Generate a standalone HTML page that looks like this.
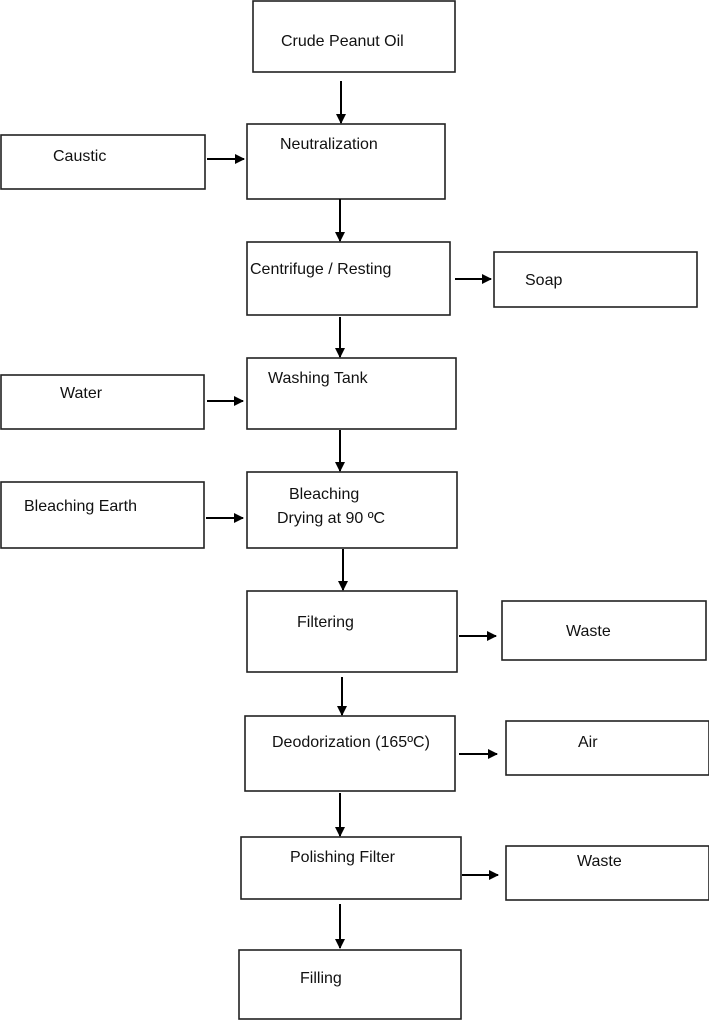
<!DOCTYPE html>
<html><head><meta charset="utf-8"><style>
html,body{margin:0;padding:0;background:#fff;width:709px;height:1020px;overflow:hidden}
svg text{font-family:"Liberation Sans",sans-serif;font-size:16px;fill:#111}
</style></head><body>
<svg width="709" height="1020" viewBox="0 0 709 1020" xmlns="http://www.w3.org/2000/svg">
<defs><marker id="a" markerWidth="10" markerHeight="10" refX="9" refY="5" orient="auto" markerUnits="userSpaceOnUse"><path d="M0,0 L10,5 L0,10 z" fill="#000"/></marker></defs>
<g fill="none" stroke="#222" stroke-width="1.6">
<rect x="253" y="1" width="202" height="71"/>
<rect x="247" y="124" width="198" height="75"/>
<rect x="1" y="135" width="204" height="54"/>
<rect x="247" y="242" width="203" height="73"/>
<rect x="494" y="252" width="203" height="55"/>
<rect x="247" y="358" width="209" height="71"/>
<rect x="1" y="375" width="203" height="54"/>
<rect x="247" y="472" width="210" height="76"/>
<rect x="1" y="482" width="203" height="66"/>
<rect x="247" y="591" width="210" height="81"/>
<rect x="502" y="601" width="204" height="59"/>
<rect x="245" y="716" width="210" height="75"/>
<rect x="506" y="721" width="203" height="54"/>
<rect x="241" y="837" width="220" height="62"/>
<rect x="506" y="846" width="203" height="54"/>
<rect x="239" y="950" width="222" height="69"/>
</g>
<g stroke="#000" stroke-width="2" marker-end="url(#a)">
<line x1="341" y1="81" x2="341" y2="123"/>
<line x1="207" y1="159" x2="244" y2="159"/>
<line x1="340" y1="199" x2="340" y2="241"/>
<line x1="455" y1="279" x2="491" y2="279"/>
<line x1="340" y1="317" x2="340" y2="357"/>
<line x1="207" y1="401" x2="243" y2="401"/>
<line x1="340" y1="430" x2="340" y2="471"/>
<line x1="206" y1="518" x2="243" y2="518"/>
<line x1="343" y1="549" x2="343" y2="590"/>
<line x1="459" y1="636" x2="496" y2="636"/>
<line x1="342" y1="677" x2="342" y2="715"/>
<line x1="459" y1="754" x2="497" y2="754"/>
<line x1="340" y1="793" x2="340" y2="836"/>
<line x1="462" y1="875" x2="498" y2="875"/>
<line x1="340" y1="904" x2="340" y2="948"/>
</g>
<text x="281" y="46">Crude Peanut Oil</text>
<text x="280" y="149">Neutralization</text>
<text x="53" y="161">Caustic</text>
<text x="250" y="274">Centrifuge / Resting</text>
<text x="525" y="285">Soap</text>
<text x="268" y="383">Washing Tank</text>
<text x="60" y="398">Water</text>
<text x="289" y="499">Bleaching</text>
<text x="277" y="523">Drying at 90 ºC</text>
<text x="24" y="511">Bleaching Earth</text>
<text x="297" y="627">Filtering</text>
<text x="566" y="636">Waste</text>
<text x="272" y="747">Deodorization (165ºC)</text>
<text x="578" y="747">Air</text>
<text x="290" y="862">Polishing Filter</text>
<text x="577" y="866">Waste</text>
<text x="300" y="983">Filling</text>
</svg>
</body></html>
